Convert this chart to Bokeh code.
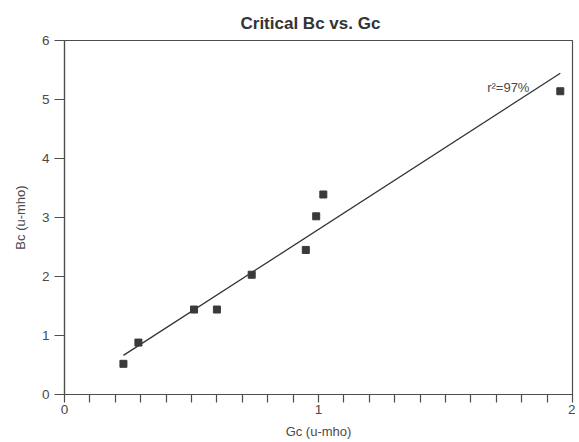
from bokeh.plotting import figure
from bokeh.models import Range1d, FixedTicker, Label, ColumnDataSource
from bokeh.embed import file_html
from bokeh.resources import INLINE

# Data
gc = [0.232, 0.291, 0.510, 0.600, 0.737, 0.950, 0.991, 1.019, 1.952]
bc = [0.52, 0.88, 1.44, 1.44, 2.03, 2.45, 3.02, 3.39, 5.14]
fit_slope = 2.78
fit_intercept = 0.018
r2_text = "r²=97%"
title_text = "Critical Bc vs. Gc"
x_label = "Gc (u-mho)"
y_label = "Bc (u-mho)"
x_ticks = [0, 1, 2]
x_minor_ticks = [0.1, 0.2, 0.3, 0.4, 0.5, 0.6, 0.7, 0.8, 0.9,
                 1.1, 1.2, 1.3, 1.4, 1.5, 1.6, 1.7, 1.8, 1.9]
y_ticks = [0, 1, 2, 3, 4, 5, 6]

FONT = "Liberation Sans"
TXT = "#4a4a4a"
LINE = "#4d4d4d"

p = figure(
    frame_width=508, frame_height=354,
    x_range=Range1d(0, 2), y_range=Range1d(0, 6),
    output_backend="svg", toolbar_location=None,
    min_border_left=64, min_border_right=3, min_border_top=40, min_border_bottom=47,
    title=title_text,
)

p.title.align = "left"
p.title.offset = 176
p.title.text_font = FONT
p.title.text_font_size = "17px"
p.title.text_font_style = "bold"
p.title.text_color = "#333333"
p.title.vertical_align = "top"
p.title.standoff = 12

p.xgrid.visible = False
p.ygrid.visible = False
p.outline_line_color = LINE
p.outline_line_width = 1.2

for ax in (p.xaxis[0], p.yaxis[0]):
    ax.axis_line_color = LINE
    ax.axis_line_width = 1.2
    ax.major_tick_line_color = LINE
    ax.minor_tick_line_color = LINE
    ax.major_tick_line_width = 1.2
    ax.minor_tick_line_width = 1.2
    ax.major_tick_in = 0
    ax.minor_tick_in = 0
    ax.major_label_text_font = FONT
    ax.major_label_text_font_size = "13.5px"
    ax.major_label_text_color = TXT
    ax.axis_label_text_font = FONT
    ax.axis_label_text_font_size = "13px"
    ax.axis_label_text_font_style = "normal"
    ax.axis_label_text_color = TXT

xa = p.xaxis[0]
xa.ticker = FixedTicker(ticks=x_ticks, minor_ticks=x_minor_ticks)
xa.major_tick_out = 8
xa.minor_tick_out = 8
xa.major_label_standoff = 2
xa.axis_label = x_label
xa.axis_label_standoff = 7

ya = p.yaxis[0]
ya.ticker = FixedTicker(ticks=y_ticks, minor_ticks=[])
ya.major_tick_out = 10
ya.minor_tick_out = 0
ya.major_label_standoff = 5
ya.axis_label = y_label
ya.axis_label_standoff = 11

# Regression line over the data's x span
x0, x1 = min(gc), max(gc)
p.line([x0, x1], [fit_intercept + fit_slope * x0, fit_intercept + fit_slope * x1],
       line_color="#333333", line_width=1.3)

src = ColumnDataSource(data=dict(x=gc, y=bc))
p.scatter("x", "y", source=src, marker="square", size=7,
          fill_color="#3a3a3a", line_color="#3a3a3a")

p.add_layout(Label(x=1.664, y=5.20, text=r2_text, text_font=FONT,
                   text_font_size="13px", text_color=TXT,
                   text_baseline="alphabetic", text_align="left"))

open("out.html", "w").write(file_html(p, INLINE))
